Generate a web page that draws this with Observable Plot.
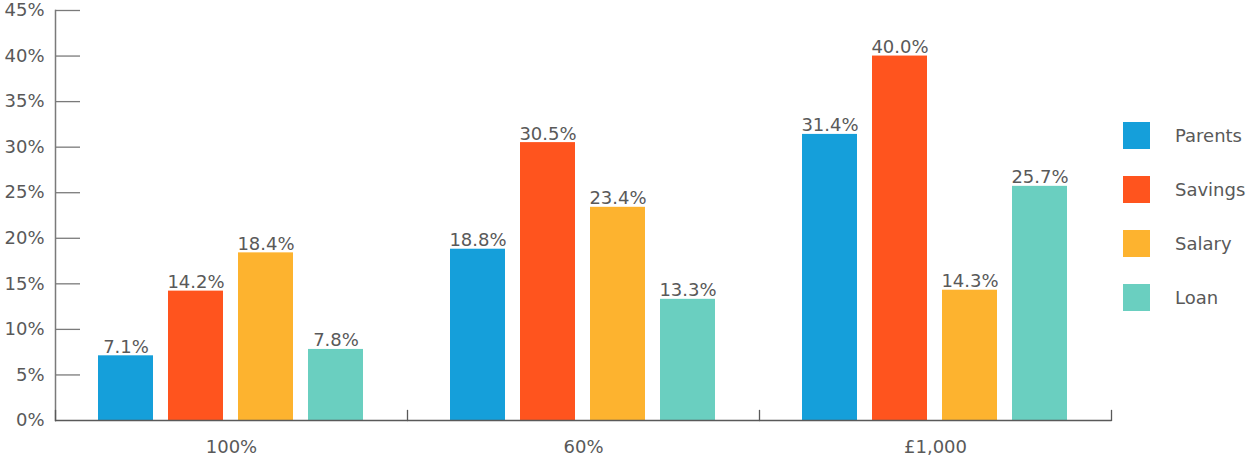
<!DOCTYPE html>
<html>
<head>
<meta charset="utf-8">
<script src="https://cdn.jsdelivr.net/npm/d3@7"></script>
<script src="https://cdn.jsdelivr.net/npm/@observablehq/plot@0.6"></script>
<style>
  html, body { margin: 0; padding: 0; background: #fff; }
  #wrap { position: relative; width: 1257px; height: 466px; font-family: "DejaVu Sans", sans-serif; }
  #legend { position: absolute; left: 1123px; top: 122px; }
  .item { display: flex; align-items: center; height: 27px; margin-bottom: 27px; }
  .sw { width: 27px; height: 27px; margin-right: 25px; }
  .lab { font-size: 18px; color: #595959; white-space: nowrap; }
</style>
</head>
<body>
<div id="wrap"><div id="legend"></div></div>
<script>
const groups = ["100%", "60%", "£1,000"];
const series = ["Parents", "Savings", "Salary", "Loan"];
const colors = ["#159FDA", "#FF541E", "#FDB32F", "#6ACFC0"];
const parents = [7.1, 18.8, 31.4];
const savings = [14.2, 30.5, 40.0];
const salary  = [18.4, 23.4, 14.3];
const loan    = [7.8, 13.3, 25.7];
const yTicks = [0, 5, 10, 15, 20, 25, 30, 35, 40, 45];

const valuesBySeries = [parents, savings, salary, loan];
const data = [];
groups.forEach((g, gi) => series.forEach((s, si) => data.push({group: g, series: s, value: valuesBySeries[si][gi]})));

const textColor = "#595959";
const fs = 18;

const chart = Plot.plot({
  width: 1257,
  height: 466,
  marginLeft: 54,
  marginRight: 145,
  marginTop: 10,
  marginBottom: 46,
  style: {fontFamily: "DejaVu Sans, sans-serif", fontSize: fs + "px", color: textColor, background: "transparent", overflow: "visible"},
  fx: {domain: groups, paddingInner: 0, paddingOuter: 0, label: null},
  x: {domain: series, paddingInner: 0.21, paddingOuter: 0.6, axis: null},
  y: {domain: [0, 45], label: null},
  color: {domain: series, range: colors},
  marks: [
    Plot.barY(data, {fx: "group", x: "series", y: "value", fill: "series"}),
    Plot.text(data, {fx: "group", x: "series", y: "value", text: d => d.value.toFixed(1) + "%",
      lineAnchor: "bottom", dy: -3, fill: textColor, fontSize: fs}),
    Plot.axisY({ticks: yTicks, tickFormat: d => d + "%", tickSize: 0, tickPadding: 11,
      fill: textColor, fontSize: fs, label: null}),
    Plot.axisFx({anchor: "bottom", tickSize: 0, tickPadding: 20, fill: textColor, fontSize: fs, label: null}),
    Plot.ruleY(yTicks.filter(d => d > 0), {y: d => d, fx: () => groups[0], insetRight: 327, stroke: "#7a7a7a", strokeWidth: 1.3}),
    Plot.frame({anchor: "left", fx: groups[0], stroke: "#7a7a7a", strokeWidth: 1.5}),
    Plot.frame({anchor: "left", insetTop: 400, stroke: "#595959", strokeWidth: 1.3}),
    Plot.frame({anchor: "right", insetTop: 400, fx: groups[2], stroke: "#595959", strokeWidth: 1.3}),
    Plot.ruleY([0], {stroke: "#595959", strokeWidth: 1.5})
  ]
});
const wrap = document.getElementById("wrap");
wrap.insertBefore(chart, wrap.firstChild);

const legend = document.getElementById("legend");
series.forEach((s, i) => {
  const item = document.createElement("div");
  item.className = "item";
  const sw = document.createElement("div");
  sw.className = "sw";
  sw.style.background = colors[i];
  const lab = document.createElement("span");
  lab.className = "lab";
  lab.textContent = s;
  item.appendChild(sw);
  item.appendChild(lab);
  legend.appendChild(item);
});
</script>
</body>
</html>
